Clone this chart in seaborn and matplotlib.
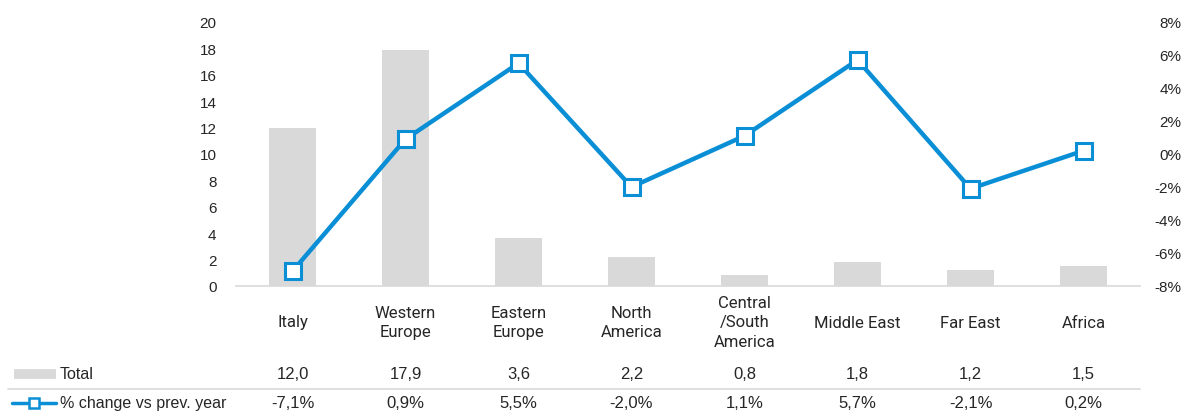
import matplotlib
matplotlib.use("Agg")
import matplotlib.pyplot as plt
import matplotlib.transforms as mtransforms
from matplotlib import font_manager
import seaborn as sns
import pandas as pd

categories = ["Italy", "Western\nEurope", "Eastern\nEurope", "North\nAmerica",
              "Central\n/South\nAmerica", "Middle East", "Far East", "Africa"]
total = [12.0, 17.9, 3.6, 2.2, 0.8, 1.8, 1.2, 1.5]
pct_change = [-7.1, 0.9, 5.5, -2.0, 1.1, 5.7, -2.1, 0.2]
total_labels = ["12,0", "17,9", "3,6", "2,2", "0,8", "1,8", "1,2", "1,5"]
pct_labels = ["-7,1%", "0,9%", "5,5%", "-2,0%", "1,1%", "5,7%", "-2,1%", "0,2%"]
left_ticks = list(range(0, 21, 2))
right_ticks = list(range(-8, 9, 2))

sns.set_theme(style="white")
names = {f.name for f in font_manager.fontManager.ttflist}
base_font = "Liberation Sans"
narrow_font = "Liberation Sans Narrow" if "Liberation Sans Narrow" in names else "Roboto"
plt.rcParams["font.family"] = [base_font, "DejaVu Sans"]

BAR = "#d9d9d9"
LINE = "#0a8fd6"
TXT = "#262626"

df = pd.DataFrame({"cat": categories, "total": total, "pct": pct_change})

fig = plt.figure(figsize=(11.9, 4.14), dpi=100)
ax = fig.add_axes([236/1190, 1-287/414, (1140-236)/1190, (287-23)/414])
sns.barplot(data=df, x="cat", y="total", color=BAR, width=0.41, ax=ax,
            saturation=1, edgecolor="none")
ax.set_xlim(-0.5, 7.5)
ax.set_ylim(0, 20)
ax.set_yticks(left_ticks)
ax.set_yticklabels([str(t) for t in left_ticks], fontsize=11, color=TXT)
ax.set_xlabel("")
ax.set_ylabel("")
ax.set_xticks(range(len(categories)))
ax.set_xticklabels([""] * len(categories))
ax.tick_params(axis="x", length=0)
ax.tick_params(axis="y", length=0, pad=14)
for s in ["top", "right", "left"]:
    ax.spines[s].set_visible(False)
ax.spines["bottom"].set_color("#d9d9d9")
ax.spines["bottom"].set_linewidth(1.2)
ax.grid(False)

ax2 = ax.twinx()
x = list(range(len(categories)))
sns.lineplot(x=x, y=pct_change, ax=ax2, color=LINE, linewidth=3.2, marker="s",
             markersize=11, markerfacecolor="white", markeredgecolor=LINE,
             markeredgewidth=2.2)
ax2.set_ylim(-8, 8)
ax2.set_yticks(right_ticks)
ax2.set_yticklabels([f"{t}%" for t in right_ticks], fontsize=11, color=TXT, ha="right")
ax2.tick_params(axis="y", length=0, pad=30)
for s in ["top", "right", "left", "bottom"]:
    ax2.spines[s].set_visible(False)
ax2.grid(False)
ax2.set_ylabel("")

# category labels and data table
trans = mtransforms.blended_transform_factory(ax.transData, fig.transFigure)
y0 = 1 - 323/414
y1 = 1 - 375/414
y2 = 1 - 404/414
for i in range(len(categories)):
    ax.text(i, y0, categories[i], transform=trans, ha="center", va="center",
            fontsize=12, color=TXT, linespacing=1.35,
            family=[narrow_font, "DejaVu Sans"])
    ax.text(i, y1, total_labels[i], transform=trans, ha="center", va="center",
            fontsize=12, color=TXT)
    ax.text(i, y2, pct_labels[i], transform=trans, ha="center", va="center",
            fontsize=12, color=TXT)

fig.text(60/1190, y1, "Total", ha="left", va="center", fontsize=11.5, color=TXT)
fig.text(60/1190, y2, "% change vs prev. year", ha="left", va="center", fontsize=11.5, color=TXT)
# legend keys
fig.add_artist(plt.Line2D([14/1190, 56/1190], [y1, y1], color=BAR, linewidth=7,
                          solid_capstyle="butt"))
fig.add_artist(plt.Line2D([12/1190, 56/1190], [y2, y2], color=LINE, linewidth=2.5))
fig.add_artist(plt.Line2D([34/1190], [y2], color=LINE, marker="s", markersize=7,
                          markerfacecolor="white", markeredgewidth=1.8))
# separator line
fig.add_artist(plt.Line2D([8/1190, 1140/1190], [1-390/414, 1-390/414],
                          color="#d9d9d9", linewidth=1.2))

fig.savefig("out.png", dpi=100)
